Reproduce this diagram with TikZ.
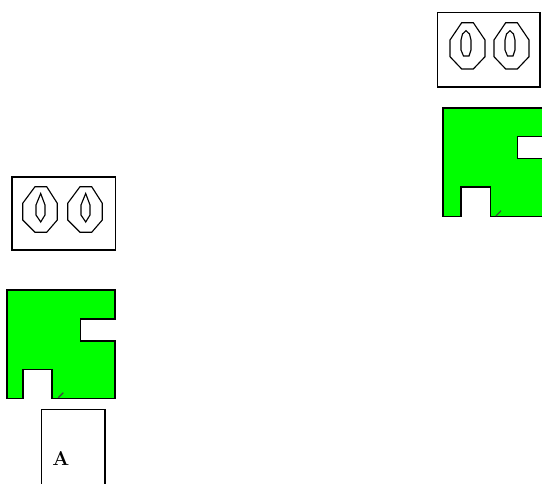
\documentclass[tikz,border=0pt]{standalone}
\usepackage{xcolor}
\usepackage{tikz}
\definecolor{plugGreen}{RGB}{0,255,0}
\tikzset{
  % Plate and plug styles
  plate/.style={draw=black, line width=1.1pt, fill=white},
  plug/.style={draw=black, line width=1.2pt, fill=plugGreen, line join=miter},
  tick/.style={draw=black!75, line width=0.8pt},
  hole/.style={draw=black, line width=0.85pt},
}
\begin{document}
\begin{tikzpicture}[x=0.75pt, y=-0.75pt]
    % Page frame in pixels, y running down
    \useasboundingbox (0,0) rectangle (542,484);
    \clip (0,0) rectangle (542,484);
    % Left plate
    \draw[plate] (12,177) rectangle (115.5,250);
    \foreach \x in {0,45} {
      \draw[hole] (35+\x,186.7) -- (46.7+\x,186.7) -- (57.3+\x,203.3) -- (57.3+\x,220) -- (46.7+\x,232.3) -- (35+\x,232.3) -- (22.7+\x,220) -- (22.7+\x,203.3) -- cycle;
      \draw[hole] (40.7+\x,193.5) -- (45+\x,205) -- (45+\x,215) -- (40.7+\x,222) -- (36+\x,215) -- (36+\x,205) -- cycle;
    }
    % Left green body
    \draw[plug] (6.7,290) -- (115,290) -- (115,319.3) -- (80.3,319.3) -- (80.3,340.7) -- (115,340.7) -- (115,398.3) -- (51.7,398.3) -- (51.7,369.3) -- (22.7,369.3) -- (22.7,398.3) -- (6.7,398.3) -- cycle;
    \draw[tick] (58.3,397.7) -- (63.3,392.7);
    % Card A, runs off the page
    \node[draw=black, line width=1.1pt, fill=white, minimum width=47.5pt, minimum height=75pt, anchor=north west, inner sep=0pt] (cardA) at (40.7,409) {};
    \node[font=\bfseries\fontsize{15}{15}\selectfont] (labelA) at (60.8,458.5) {A};
    % Right plate
    \draw[plate] (437.3,12.5) rectangle (540,87);
    \foreach \x in {0,44} {
      \draw[hole] (461.7+\x,22.7) -- (473.3+\x,22.7) -- (485+\x,40) -- (485+\x,56.7) -- (473.3+\x,69) -- (461.7+\x,69) -- (450+\x,56.7) -- (450+\x,40) -- cycle;
      \draw[hole] (466+\x,30.7) -- (469.5+\x,34) -- (471+\x,40) -- (471+\x,50) -- (469+\x,56) -- (463.5+\x,56) -- (461+\x,50) -- (461+\x,40) -- (462.5+\x,34) -- cycle;
    }
    % Right green body, cut by the page edge
    \draw[plug] (442.7,108.3) -- (551,108.3) -- (551,136.7) -- (517.3,136.7) -- (517.3,158.7) -- (551,158.7) -- (551,216.7) -- (490.3,216.7) -- (490.3,187.3) -- (461,187.3) -- (461,216.7) -- (442.7,216.7) -- cycle;
    \draw[tick] (496,216) -- (501,210.7);
\end{tikzpicture}
\end{document}
